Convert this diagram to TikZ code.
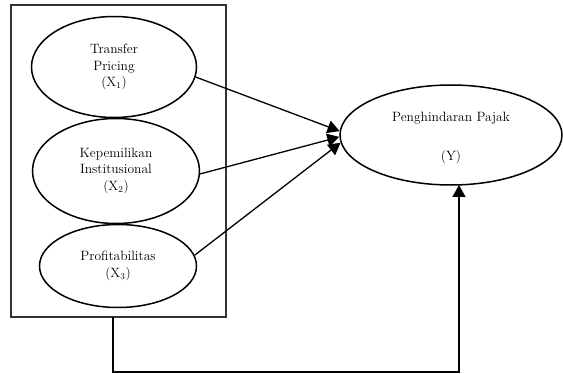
\documentclass[tikz,border=0pt]{standalone}
\usepackage{amsmath}
\usepackage{tikz}
\usetikzlibrary{arrows.meta,shapes.geometric}

\tikzset{
  var/.style={draw,ellipse,line width=1.5pt,inner sep=0pt,align=center,
    font=\fontsize{13.5}{16.5}\selectfont},
  vartext/.style={align=center,inner sep=0pt,font=\fontsize{13.5}{16.5}\selectfont},
  link/.style={line width=1.3pt,-{Triangle[length=12pt,width=13pt]}}
}

\begin{document}
\begin{tikzpicture}[x=1pt,y=-1pt]
\useasboundingbox (0,0) rectangle (563,374);
\node[draw=black!80,line width=1.6pt,minimum width=215pt,minimum height=312pt,inner sep=0pt]
  (frame) at (118.5,161) {};
\node[var,minimum width=165pt,minimum height=101pt] (x1) at (114,67)
  {Transfer\\Pricing\\(X$_1$)};
\node[var,minimum width=167pt,minimum height=105pt] (x2) at (116,171)
  {Kepemilikan\\Institusional\\(X$_2$)};
\node[var,minimum width=157pt,minimum height=83pt] (x3) at (118,266)
  {Profitabilitas\\(X$_3$)};
\node[var,minimum width=222pt,minimum height=100pt] (y) at (451,135) {};
\node[vartext] (ylabel) at (451,138) {Penghindaran Pajak\\[22pt](Y)};
\coordinate (drop) at (113,317);
\coordinate (rise) at (459,185);
% arrows to the dependent variable
\draw[link] (x1.-7) -- (y.178.5);
\draw[link] (x2.-2) -- (y.181.5);
\draw[link] (x3.8) -- (y.184.5);
\draw[link] (drop) -- (113,372) -| (rise);
\end{tikzpicture}
\end{document}
